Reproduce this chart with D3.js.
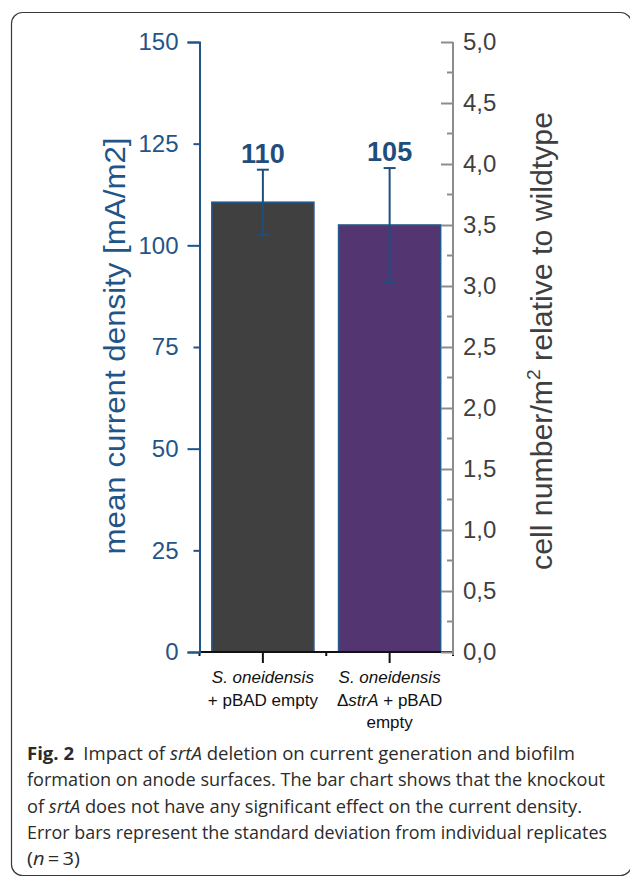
<!DOCTYPE html>
<html lang="en">
<head>
    <meta charset="UTF-8">
    <title>srtA current density</title>
    <script src="https://cdn.jsdelivr.net/npm/d3@7"></script>
    <style>
        body { margin: 0; background: #fff; }
        .left-axis text { fill: #1f5589; font-family: "Liberation Sans", Arial, sans-serif; font-size: 24px; }
        .right-axis text { fill: #3f3f3f; font-family: "Liberation Sans", Arial, sans-serif; font-size: 24px; }
        .axis-title { font-family: "Liberation Sans", Arial, sans-serif; font-size: 30px; }
        .cat-label { font-family: "Liberation Sans", Arial, sans-serif; font-size: 17px; fill: #111; }
        .value-label { font-family: "Liberation Sans", Arial, sans-serif; font-size: 27px; font-weight: bold; fill: #1f4e7d; }
        .caption { font-family: "Open Sans", sans-serif; font-size: 18.5px; fill: #2b2b2b; }
    </style>
</head>
<body>
<script>
    // data
    const categories = ["S. oneidensis + pBAD empty", "S. oneidensis \u0394strA + pBAD empty"];
    const meanCurrent = [110.6, 105];
    const stdDev = [8, 14];
    const valueLabels = ["110", "105"];
    const barColors = ["#404040", "#533572"];
    const leftTicks = [0, 25, 50, 75, 100, 125, 150];
    const rightTicks = [0, 0.5, 1.0, 1.5, 2.0, 2.5, 3.0, 3.5, 4.0, 4.5, 5.0];
    const rightMinorTicks = [0.25, 0.75, 1.25, 1.75, 2.25, 2.75, 3.25, 3.75, 4.25, 4.75];

    const w = 630, h = 879;
    const plotLeft = 199.5, plotRight = 453, plotTop = 42, plotBottom = 652;
    const blue = "#1f5589";

    const svg = d3.select("body").append("svg")
        .attr("width", w)
        .attr("height", h);

    // frame
    svg.append("rect")
        .attr("x", 11.5).attr("y", 12.5)
        .attr("width", 620).attr("height", 863)
        .attr("rx", 11)
        .attr("fill", "none")
        .attr("stroke", "#3a3a3a")
        .attr("stroke-width", 1.2);

    const yLeft = d3.scaleLinear().domain([0, 150]).range([plotBottom, plotTop]);
    const yRight = d3.scaleLinear().domain([0, 5]).range([plotBottom, plotTop]);
    const x = d3.scaleBand()
        .domain(categories)
        .range([plotLeft, plotRight])
        .paddingInner(0.195)
        .paddingOuter(0.0975);
    const cx = d => x(d) + x.bandwidth() / 2;

    // bars
    svg.selectAll(".bar")
        .data(categories)
        .enter()
        .append("rect")
        .attr("class", "bar")
        .attr("x", d => x(d))
        .attr("y", (d, i) => yLeft(meanCurrent[i]))
        .attr("width", x.bandwidth())
        .attr("height", (d, i) => yLeft(0) - yLeft(meanCurrent[i]))
        .attr("fill", (d, i) => barColors[i])
        .attr("stroke", "#26598c")
        .attr("stroke-width", 1.6);

    // error bars
    const err = svg.selectAll(".err")
        .data(categories)
        .enter()
        .append("g")
        .attr("class", "err")
        .attr("stroke", "#1f4e7d")
        .attr("stroke-width", 2);
    err.append("line")
        .attr("x1", cx).attr("x2", cx)
        .attr("y1", (d, i) => yLeft(meanCurrent[i] + stdDev[i]))
        .attr("y2", (d, i) => yLeft(meanCurrent[i] - stdDev[i]));
    err.append("line")
        .attr("x1", d => cx(d) - 6).attr("x2", d => cx(d) + 6)
        .attr("y1", (d, i) => yLeft(meanCurrent[i] + stdDev[i]))
        .attr("y2", (d, i) => yLeft(meanCurrent[i] + stdDev[i]));
    err.append("line")
        .attr("x1", d => cx(d) - 6).attr("x2", d => cx(d) + 6)
        .attr("y1", (d, i) => yLeft(meanCurrent[i] - stdDev[i]))
        .attr("y2", (d, i) => yLeft(meanCurrent[i] - stdDev[i]));

    // value labels
    svg.selectAll(".value-label")
        .data(categories)
        .enter()
        .append("text")
        .attr("class", "value-label")
        .attr("x", cx)
        .attr("y", (d, i) => yLeft(meanCurrent[i] + stdDev[i]) - 7)
        .attr("text-anchor", "middle")
        .text((d, i) => valueLabels[i]);

    // bottom axis (black line with ticks)
    const xAxis = svg.append("g").attr("stroke", "#111").attr("stroke-width", 2);
    xAxis.append("line")
        .attr("x1", plotLeft).attr("x2", plotRight)
        .attr("y1", plotBottom).attr("y2", plotBottom);
    xAxis.selectAll(".minor")
        .data([plotLeft, (cx(categories[0]) + cx(categories[1])) / 2, plotRight])
        .enter()
        .append("line")
        .attr("x1", d => d).attr("x2", d => d)
        .attr("y1", plotBottom).attr("y2", plotBottom + 4);
    xAxis.selectAll(".major")
        .data(categories)
        .enter()
        .append("line")
        .attr("x1", cx).attr("x2", cx)
        .attr("y1", plotBottom).attr("y2", plotBottom + 11);

    // category labels
    const catLines = [
        [[{t: "S. oneidensis", it: true}], [{t: "+ pBAD empty", it: false}]],
        [[{t: "S. oneidensis", it: true}], [{t: "\u0394", it: false}, {t: "strA", it: true}, {t: " + pBAD", it: false}], [{t: "empty", it: false}]]
    ];
    categories.forEach((c, i) => {
        catLines[i].forEach((line, j) => {
            const t = svg.append("text")
                .attr("class", "cat-label")
                .attr("x", cx(c))
                .attr("y", 683 + j * 22.5)
                .attr("text-anchor", "middle");
            line.forEach(seg => {
                t.append("tspan")
                    .attr("font-style", seg.it ? "italic" : "normal")
                    .text(seg.t);
            });
        });
    });

    // left axis
    const gl = svg.append("g")
        .attr("class", "left-axis")
        .attr("transform", `translate(${plotLeft},0)`)
        .call(d3.axisLeft(yLeft).tickValues(leftTicks).tickSize(12).tickPadding(9).tickFormat(d3.format("d")));
    gl.select(".domain").attr("stroke", blue).attr("stroke-width", 2);
    gl.selectAll(".tick line").attr("stroke", blue).attr("stroke-width", 2)
        .attr("x2", d => (d % 50 === 0 ? -12 : -6));

    // right axis
    const comma = d => d3.format(".1f")(d).replace(".", ",");
    const gr = svg.append("g")
        .attr("class", "right-axis")
        .attr("transform", `translate(${plotRight},0)`)
        .call(d3.axisRight(yRight).tickValues(rightTicks).tickSizeInner(-12).tickSizeOuter(0).tickPadding(10).tickFormat(comma));
    gr.select(".domain").attr("stroke", "#8c8c8c").attr("stroke-width", 2)
        .attr("d", `M0,${plotTop}V${plotBottom + 3}`);
    gr.selectAll(".tick line").attr("stroke", "#8c8c8c").attr("stroke-width", 2);
    gr.selectAll(".minor")
        .data(rightMinorTicks)
        .enter()
        .append("line")
        .attr("x1", -6).attr("x2", 0)
        .attr("y1", d => yRight(d)).attr("y2", d => yRight(d))
        .attr("stroke", "#8c8c8c").attr("stroke-width", 2);

    // axis titles
    svg.append("text")
        .attr("class", "axis-title")
        .attr("transform", "translate(125,346) rotate(-90)")
        .attr("text-anchor", "middle")
        .attr("textLength", 417)
        .attr("lengthAdjust", "spacingAndGlyphs")
        .attr("fill", blue)
        .text("mean current density [mA/m2]");
    const rt = svg.append("text")
        .attr("class", "axis-title")
        .attr("transform", "translate(552,341) rotate(-90)")
        .attr("text-anchor", "middle")
        .attr("textLength", 458)
        .attr("lengthAdjust", "spacingAndGlyphs")
        .attr("fill", "#3f3f3f");
    rt.append("tspan").text("cell number/m");
    rt.append("tspan").attr("font-size", "19px").attr("dy", -12).text("2");
    rt.append("tspan").attr("dy", 12).text(" relative to wildtype");

    // caption
    const captionLines = [
        {len: 548, segs: [{t: "Fig. 2", b: true}, {t: "\u2002Impact of "}, {t: "srtA", i: true}, {t: " deletion on current generation and biofilm"}]},
        {len: 578, segs: [{t: "formation on anode surfaces. The bar chart shows that the knockout"}]},
        {len: 555, segs: [{t: "of "}, {t: "srtA", i: true}, {t: " does not have any significant effect on the current density."}]},
        {len: 580, segs: [{t: "Error bars represent the standard deviation from individual replicates"}]},
        {len: 53, segs: [{t: "("}, {t: "n", i: true}, {t: "\u2009=\u20093)"}]}
    ];
    captionLines.forEach((line, j) => {
        const t = svg.append("text")
            .attr("class", "caption")
            .attr("x", 27)
            .attr("y", 760 + j * 26.3)
            .attr("textLength", line.len)
            .attr("lengthAdjust", "spacingAndGlyphs");
        line.segs.forEach(s => {
            t.append("tspan")
                .attr("font-weight", s.b ? "bold" : "normal")
                .attr("font-style", s.i ? "italic" : "normal")
                .text(s.t);
        });
    });
</script>
</body>
</html>
